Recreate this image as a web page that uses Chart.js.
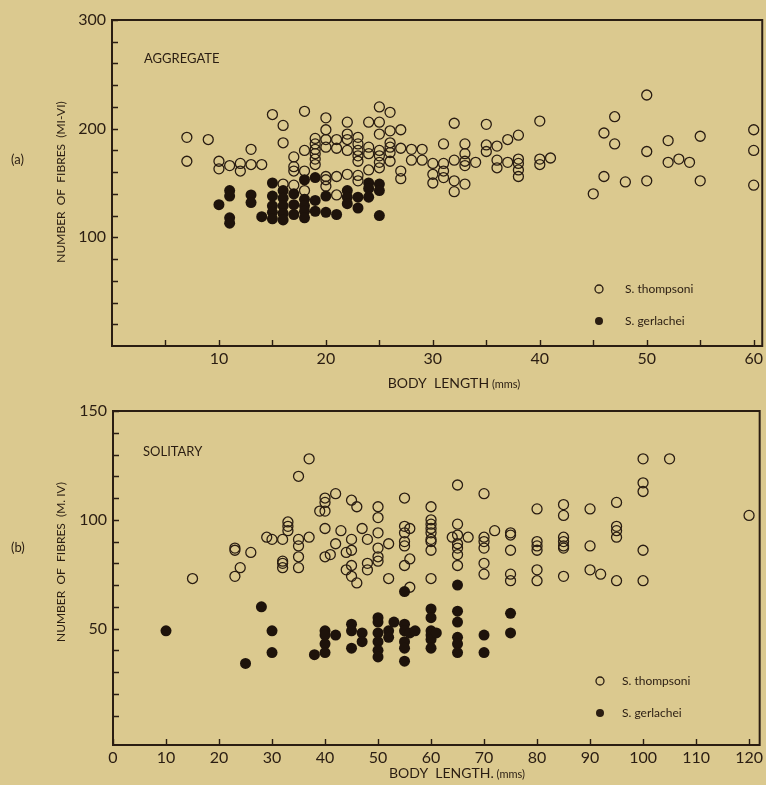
<!DOCTYPE html>
<html>
<head>
<meta charset="utf-8">
<script src="https://cdn.jsdelivr.net/npm/chart.js@4.4.0/dist/chart.umd.min.js"></script>
<style>
  html, body { margin: 0; padding: 0; background: #dbc98f; }
  #wrap { position: relative; width: 766px; height: 785px; background: #dbc98f; }
  canvas { position: absolute; left: 0; }
</style>
</head>
<body>
<div id="wrap">
  <canvas id="chart-a" width="766" height="395" style="top:0"></canvas>
  <canvas id="chart-b" width="766" height="390" style="top:395px"></canvas>
</div>
<script>
var inkColor = '#2a1d12';
var fontFamily = 'Lato, "DejaVu Sans", sans-serif';

// (a) aggregate - S. thompsoni
var aggThompsoniLength = [15,18,16,7,9,16,13,18,7,10,10,11,12,12,13,14,17,17,17,18,18,16,17,
  19,19,19,19,19,19,20,20,20,20,20,20,20,21,21,21,21,22,22,22,22,22,
  23,23,23,23,23,23,23,24,24,24,24,25,25,25,25,25,25,25,26,26,26,26,26,26,
  27,27,27,27,28,28,29,29,30,30,30,31,31,31,31,32,32,32,32,
  33,33,33,33,33,34,35,35,35,36,36,36,37,37,38,38,38,38,38,40,40,40,41,
  45,46,46,47,47,48,50,50,50,52,52,53,54,55,55,60,60,60];
var aggThompsoniFibres = [213,216,203,192,190,187,181,180,170,170,163,166,168,161,167,167,174,165,161,161,143,149,148,
  191,186,181,177,172,167,210,199,190,183,156,153,147,190,182,156,139,206,195,190,180,158,
  192,186,180,175,170,157,152,206,183,177,162,220,206,195,180,175,169,164,215,198,187,183,178,170,
  199,182,161,154,181,171,181,171,168,158,150,186,168,161,155,205,171,152,142,
  186,177,170,166,149,169,204,185,179,184,171,164,190,169,194,172,168,162,156,207,172,167,173,
  140,196,156,211,186,151,231,179,152,189,169,172,169,193,152,199,180,148];

// (a) aggregate - S. gerlachei
var aggGerlacheiLength = [11,11,10,11,11,13,13,14,15,15,15,15,15,16,16,16,16,16,17,17,17,
  18,18,18,18,18,19,19,19,20,20,21,22,22,22,23,23,24,24,24,25,25,25];
var aggGerlacheiFibres = [143,138,130,118,113,139,132,119,150,138,129,123,117,143,136,129,122,116,140,130,121,
  153,135,129,124,118,155,134,124,138,123,121,143,137,131,137,127,150,145,137,149,143,120];

// (b) solitary - S. thompsoni
var solThompsoniLength = [15,23,24,23,23,26,29,30,32,32,32,32,33,33,33,35,35,35,35,35,37,37,
  40,40,39,40,40,42,40,41,42,43,44,44,45,45,45,45,45,46,46,47,48,48,48,
  50,50,50,50,50,50,52,52,55,55,56,55,55,55,56,55,56,
  60,60,60,60,60,60,60,60,60,64,65,65,65,65,65,65,65,67,
  70,70,70,70,70,70,72,75,75,75,75,75,
  80,80,80,80,80,80,85,85,85,85,85,85,85,90,90,90,92,95,95,95,95,95,
  100,100,100,100,100,105,120];
var solThompsoniFibres = [73,74,78,87,86,85,92,91,91,81,80,78,99,97,95,120,91,88,83,78,128,92,
  110,108,104,104,96,112,83,84,89,95,85,77,109,91,86,79,74,106,71,96,91,80,77,
  106,101,94,87,83,81,89,73,110,97,96,94,90,88,82,79,69,
  106,100,98,96,94,91,90,86,73,92,116,98,93,89,87,84,79,92,
  112,92,90,87,80,75,95,94,93,86,75,72,
  105,90,88,86,77,72,107,102,92,90,88,87,74,105,88,77,75,108,97,95,92,72,
  128,117,113,86,72,128,102];

// (b) solitary - S. gerlachei
var solGerlacheiLength = [10,28,30,30,25,40,40,40,40,38,42,45,45,45,47,47,
  50,50,50,50,50,50,52,52,53,55,55,55,55,55,55,56,57,
  60,60,60,60,60,60,61,65,65,65,65,65,65,70,70,75,75];
var solGerlacheiFibres = [49,60,49,39,34,49,47,43,39,38,47,52,49,41,48,44,
  55,53,48,44,40,37,49,46,53,52,49,44,41,35,67,48,49,
  59,55,49,47,45,41,48,70,58,53,46,43,39,47,39,57,48];

// axis ticks (every value gets an inward mark, listed ones get a label)
var aggXTickLabels = [10, 20, 30, 40, 50, 60];
var aggYTickLabels = [100, 200, 300];
var solXTickLabels = [0, 10, 20, 30, 40, 50, 60, 70, 80, 90, 100, 110, 120];
var solYTickLabels = [50, 100, 150];

function steps(from, to, step) {
  var out = [];
  for (var v = from; v <= to + 1e-9; v += step) out.push(v);
  return out;
}

function toPoints(xs, ys) {
  return xs.map(function(x, i) { return { x: x, y: ys[i] }; });
}

function circle(ctx, x, y, r, filled) {
  ctx.beginPath();
  ctx.arc(x, y, r, 0, Math.PI * 2);
  if (filled) { ctx.fillStyle = inkColor; ctx.fill(); }
  else { ctx.lineWidth = 1.3; ctx.strokeStyle = inkColor; ctx.stroke(); }
}

// box, inward tick marks and all the free text of a panel
var framePlugin = {
  id: 'frame',
  beforeDatasetsDraw: function(chart) {
    var ctx = chart.ctx, a = chart.chartArea, sx = chart.scales.x, sy = chart.scales.y;
    ctx.save();
    ctx.strokeStyle = inkColor;
    ctx.lineWidth = 2;
    ctx.strokeRect(a.left, a.top, a.right - a.left, a.bottom - a.top);
    ctx.lineWidth = 1.4;
    ctx.beginPath();
    sx.ticks.forEach(function(t) {
      var px = Math.round(sx.getPixelForValue(t.value)) + 0.5;
      ctx.moveTo(px, a.bottom); ctx.lineTo(px, a.bottom - 6);
    });
    sy.ticks.forEach(function(t) {
      var py = Math.round(sy.getPixelForValue(t.value)) + 0.5;
      ctx.moveTo(a.left, py); ctx.lineTo(a.left + 6, py);
    });
    ctx.stroke();
    ctx.restore();
  },
  afterDraw: function(chart, args, o) {
    var ctx = chart.ctx;
    ctx.save();
    ctx.fillStyle = inkColor;
    ctx.textBaseline = 'middle';

    ctx.font = '13px ' + fontFamily;
    ctx.textAlign = 'left';
    ctx.fillText(o.tag, o.tagPos[0], o.tagPos[1]);

    ctx.font = '13px ' + fontFamily;
    ctx.fillText(o.title, o.titlePos[0], o.titlePos[1]);

    // x axis title with smaller unit
    ctx.font = '14px ' + fontFamily;
    var main = o.xTitle, unit = ' (mms)';
    var w1 = ctx.measureText(main).width;
    ctx.font = '11px ' + fontFamily;
    var w2 = ctx.measureText(unit).width;
    var x0 = o.xTitlePos[0] - (w1 + w2) / 2;
    ctx.font = '14px ' + fontFamily;
    ctx.fillText(main, x0, o.xTitlePos[1]);
    ctx.font = '11px ' + fontFamily;
    ctx.fillText(unit, x0 + w1, o.xTitlePos[1] + 1);

    // y axis title
    ctx.save();
    ctx.translate(o.yTitlePos[0], o.yTitlePos[1]);
    ctx.rotate(-Math.PI / 2);
    ctx.textAlign = 'center';
    ctx.font = '12px ' + fontFamily;
    ctx.fillText(o.yTitle, 0, 0);
    ctx.restore();

    // legend
    ctx.font = '12px ' + fontFamily;
    ctx.textAlign = 'left';
    chart.data.datasets.forEach(function(ds, i) {
      var lx = o.legendPos[0], ly = o.legendPos[1] + i * o.legendGap;
      circle(ctx, lx, ly, 4, ds.label === 'S. gerlachei');
      ctx.fillStyle = inkColor;
      ctx.fillText(ds.label, lx + o.legendTextGap, ly);
    });
    ctx.restore();
  }
};

function makePanel(id, cfg) {
  var tickFont = { family: fontFamily, size: 16 };
  return new Chart(document.getElementById(id), {
    type: 'scatter',
    data: {
      datasets: [{
        label: 'S. thompsoni',
        data: toPoints(cfg.tLen, cfg.tFib),
        pointRadius: 5,
        pointBorderWidth: 1.3,
        pointBorderColor: inkColor,
        pointBackgroundColor: 'rgba(0,0,0,0)',
        order: 2
      }, {
        label: 'S. gerlachei',
        data: toPoints(cfg.gLen, cfg.gFib),
        pointRadius: 5.5,
        pointBorderWidth: 0,
        pointBorderColor: inkColor,
        pointBackgroundColor: '#1e130b',
        order: 1
      }]
    },
    options: {
      responsive: false,
      animation: false,
      events: [],
      layout: { autoPadding: false, padding: { top: cfg.top, right: cfg.right, left: 0, bottom: 0 } },
      plugins: { legend: { display: false }, tooltip: { enabled: false }, frame: cfg.frame },
      scales: {
        x: {
          type: 'linear', min: cfg.xMin, max: cfg.xMax,
          grid: { display: false, drawTicks: false }, border: { display: false },
          afterFit: function(s) { s.height = cfg.xAxisHeight; },
          afterBuildTicks: function(s) { s.ticks = cfg.xMarks.map(function(v) { return { value: v }; }); },
          ticks: {
            color: inkColor, font: tickFont, padding: 3, maxRotation: 0, autoSkip: false,
            callback: function(v) { return cfg.xLabels.indexOf(v) >= 0 ? String(v) : ''; }
          }
        },
        y: {
          type: 'linear', min: cfg.yMin, max: cfg.yMax,
          grid: { display: false, drawTicks: false }, border: { display: false },
          afterFit: function(s) { s.width = cfg.yAxisWidth; },
          afterBuildTicks: function(s) { s.ticks = cfg.yMarks.map(function(v) { return { value: v }; }); },
          ticks: {
            color: inkColor, font: tickFont, padding: 6, autoSkip: false,
            callback: function(v) { return cfg.yLabels.indexOf(v) >= 0 ? String(v) : ''; }
          }
        }
      }
    },
    plugins: [framePlugin]
  });
}

makePanel('chart-a', {
  tLen: aggThompsoniLength, tFib: aggThompsoniFibres,
  gLen: aggGerlacheiLength, gFib: aggGerlacheiFibres,
  xMin: 0, xMax: 60.8, yMin: 0, yMax: 300,
  xMarks: steps(5, 60, 5), yMarks: steps(20, 300, 20),
  xLabels: aggXTickLabels, yLabels: aggYTickLabels,
  top: 20, right: 2, yAxisWidth: 112, xAxisHeight: 49,
  frame: {
    tag: '(a)', tagPos: [11, 160],
    title: 'AGGREGATE', titlePos: [144, 59],
    xTitle: 'BODY  LENGTH', xTitlePos: [454, 383],
    yTitle: 'NUMBER  OF  FIBRES  (MI-VI)', yTitlePos: [61, 182],
    legendPos: [599, 289], legendGap: 32, legendTextGap: 26
  }
});

makePanel('chart-b', {
  tLen: solThompsoniLength, tFib: solThompsoniFibres,
  gLen: solGerlacheiLength, gFib: solGerlacheiFibres,
  xMin: 0, xMax: 122, yMin: -3.5, yMax: 150,
  xMarks: steps(0, 120, 10), yMarks: steps(10, 150, 10),
  xLabels: solXTickLabels, yLabels: solYTickLabels,
  top: 16, right: 1, yAxisWidth: 113, xAxisHeight: 40,
  frame: {
    tag: '(b)', tagPos: [11, 153],
    title: 'SOLITARY', titlePos: [143, 57],
    xTitle: 'BODY  LENGTH.', xTitlePos: [457, 378],
    yTitle: 'NUMBER  OF  FIBRES  (M. IV)', yTitlePos: [61, 167],
    legendPos: [600, 286], legendGap: 32, legendTextGap: 22
  }
});
</script>
</body>
</html>
